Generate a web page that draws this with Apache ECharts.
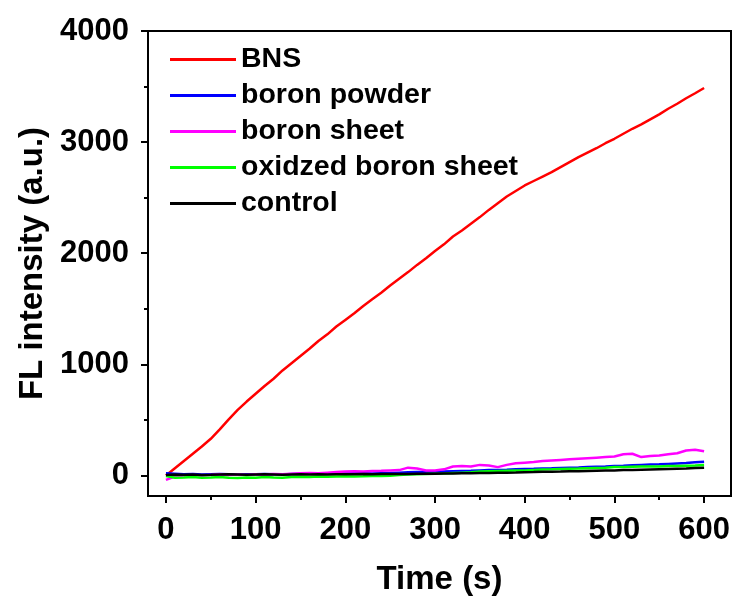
<!DOCTYPE html>
<html>
<head>
<meta charset="utf-8">
<script src="https://cdn.jsdelivr.net/npm/echarts@6/dist/echarts.min.js"></script>
<style>html,body{margin:0;padding:0;background:#fff}#c{width:737px;height:601px}</style>
</head>
<body>
<div id="c"></div>
<script>
const time = [0,10,20,30,40,50,60,70,80,90,100,110,120,130,140,150,160,170,180,190,200,210,220,230,240,250,260,270,280,290,300,310,320,330,340,350,360,370,380,390,400,410,420,430,440,450,460,470,480,490,500,510,520,530,540,550,560,570,580,590,600];
const bns = [0,65,130,195,260,330,415,505,590,665,735,805,870,945,1010,1075,1140,1210,1270,1340,1400,1460,1525,1585,1645,1710,1770,1830,1895,1955,2020,2080,2150,2205,2265,2325,2390,2450,2510,2560,2610,2650,2690,2730,2775,2820,2865,2905,2945,2990,3030,3075,3120,3160,3205,3250,3300,3345,3395,3440,3487];
const boronPowder = [20,15,10,12,8,10,12,10,8,10,10,12,10,8,12,15,15,14,16,18,18,20,20,18,20,22,25,28,30,30,32,35,38,40,42,45,48,50,52,55,58,60,63,65,68,70,72,75,78,80,85,88,92,95,98,100,104,108,112,118,123];
const boronSheet = [-40,-10,0,5,0,5,10,5,8,5,10,8,12,10,15,20,22,20,25,30,35,38,35,40,42,45,48,70,62,45,45,55,80,85,80,95,90,75,95,110,115,120,130,135,140,145,150,155,160,165,170,190,195,165,175,180,190,200,225,232,218];
const oxidizedSheet = [-5,-20,-18,-15,-20,-18,-15,-20,-22,-18,-20,-15,-18,-20,-15,-12,-15,-10,-12,-10,-8,-10,-8,-5,-5,-2,5,8,10,12,15,18,22,25,28,35,38,40,42,44,45,50,54,55,58,60,62,65,68,70,75,76,78,80,80,80,84,86,88,90,93];
const control = [5,8,6,8,5,6,8,10,8,6,8,10,8,6,8,10,8,10,8,10,10,10,12,10,12,12,14,14,15,15,15,17,18,20,20,22,23,24,25,26,28,30,33,34,35,37,38,40,42,44,45,48,50,52,54,56,58,60,62,66,69];

const seriesNames = ['BNS','boron powder','boron sheet','oxidzed boron sheet','control'];
const seriesValues = [bns, boronPowder, boronSheet, oxidizedSheet, control];
const colors = ['#ff0000','#0000ff','#ff00ff','#00ff00','#000000'];
const yMajor = [0,1000,2000,3000,4000];
const yMinor = [500,1500,2500,3500];
const xMajor = [0,100,200,300,400,500,600];
const xMinor = [50,150,250,350,450,550];

const FONT = 'Liberation Sans, Arial, sans-serif';
const chart = echarts.init(document.getElementById('c'), null, {renderer:'canvas'});
const axisLineStyle = {show:true, onZero:false, lineStyle:{color:'#000', width:2}};
const plain = v => String(v);
const option = {
  animation:false,
  backgroundColor:'#fff',
  color: colors,
  grid:{left:148, top:31, right:6, bottom:103, show:true, borderColor:'#000', borderWidth:2},
  legend:{
    orient:'vertical', left:170, top:45, padding:0,
    itemWidth:66, itemHeight:3, itemGap:7, icon:'rect',
    textStyle:{fontFamily:FONT, fontWeight:'bold', fontSize:28.5, color:'#000'},
    data: seriesNames
  },
  xAxis:[{
    type:'value', min:-20, max:630,
    name:'Time (s)', nameLocation:'middle', nameGap:67,
    nameTextStyle:{fontFamily:FONT, fontWeight:'bold', fontSize:33, color:'#000'},
    axisLine:axisLineStyle,
    axisTick:{show:true, customValues:xMajor, length:7, inside:false, lineStyle:{color:'#000', width:2}},
    axisLabel:{customValues:xMajor, formatter:plain, margin:19, fontFamily:FONT, fontWeight:'bold', fontSize:31, color:'#000'},
    splitLine:{show:false}
  },{
    type:'value', min:-20, max:630, position:'bottom',
    axisLine:{show:false, onZero:false},
    axisTick:{show:true, customValues:xMinor, length:4, lineStyle:{color:'#000', width:2}},
    axisLabel:{show:false}, splitLine:{show:false}
  }],
  yAxis:[{
    type:'value', min:-185, max:4000,
    name:'FL intensity (a.u.)', nameLocation:'middle', nameGap:92,
    nameTextStyle:{fontFamily:FONT, fontWeight:'bold', fontSize:33, color:'#000'},
    axisLine:axisLineStyle,
    axisTick:{show:true, customValues:yMajor, length:7, lineStyle:{color:'#000', width:2}},
    axisLabel:{customValues:yMajor, formatter:plain, margin:19, fontFamily:FONT, fontWeight:'bold', fontSize:31, color:'#000'},
    splitLine:{show:false}
  },{
    type:'value', min:-185, max:4000, position:'left',
    axisLine:{show:false, onZero:false},
    axisTick:{show:true, customValues:yMinor, length:4, lineStyle:{color:'#000', width:2}},
    axisLabel:{show:false}, splitLine:{show:false}
  }],
  series: seriesNames.map((n,i)=>({
    name:n, type:'line', xAxisIndex:0, yAxisIndex:0,
    showSymbol:false, symbol:'none',
    lineStyle:{width:2.5, color:colors[i]},
    itemStyle:{color:colors[i]},
    z: 2+i,
    data: time.map((t,k)=>[t, seriesValues[i][k]])
  }))
};
chart.setOption(option);
</script>
</body>
</html>
